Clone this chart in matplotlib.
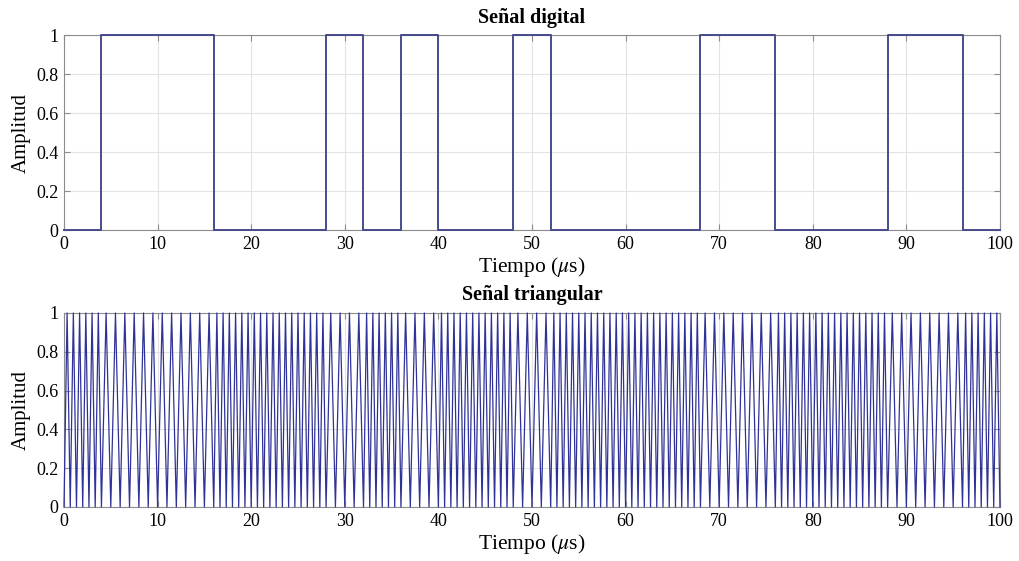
import numpy as np
import matplotlib
matplotlib.use('Agg')
import matplotlib.pyplot as plt

# bits of the digital signal, each lasting 4 us
bits = [0, 1, 1, 1, 0, 0, 0, 1, 0, 1, 0, 0, 1, 0, 0, 0, 0, 1, 1, 0, 0, 0, 1, 1, 0]
bitDuration = 4.0
# triangle period (us) used for each bit value
periodForBit = {0: 2.0 / 3.0, 1: 1.0}

digitalColor = '#474b8e'
triColor = '#2f3296'
edgeColor = '#8c8c8c'

plt.rcParams['font.family'] = ['Liberation Serif', 'DejaVu Serif']
plt.rcParams['mathtext.fontset'] = 'stix'

# digital signal as steps
bitTimes = [i * bitDuration for i in range(len(bits) + 1)]
bitValues = bits + [bits[-1]]

# triangular signal: vertices at every half period
triTimes = []
triValues = []
for i in range(len(bits)):
    start = i * bitDuration
    half = periodForBit[bits[i]] / 2.0
    n = int(round(bitDuration / half))
    for k in range(n):
        triTimes.append(start + k * half)
        triValues.append(k % 2)
triTimes.append(len(bits) * bitDuration)
triValues.append(0)

fig = plt.figure(figsize=(10.19, 5.61), dpi=100)
ax1 = fig.add_axes([0.0628, 0.590, 0.9185, 0.3476])
ax2 = fig.add_axes([0.0628, 0.0963, 0.9185, 0.3458])

ax1.step(bitTimes, bitValues, where='post', color=digitalColor, linewidth=1.4,
         clip_on=False, zorder=3)
ax2.plot(triTimes, triValues, color=triColor, linewidth=0.9, clip_on=False, zorder=3)

for ax, title in [(ax1, 'Señal digital'), (ax2, 'Señal triangular')]:
    ax.set_xlim(0, 100)
    ax.set_ylim(0, 1)
    ax.set_xticks(np.arange(0, 101, 10))
    ax.set_yticks([0, 0.2, 0.4, 0.6, 0.8, 1])
    ax.set_yticklabels(['0', '0.2', '0.4', '0.6', '0.8', '1'])
    ax.grid(True, color='#e3e3e3', linewidth=0.8)
    ax.set_axisbelow(True)
    ax.tick_params(direction='in', top=True, right=True, labelsize=13,
                   color=edgeColor, length=4, pad=4)
    for s in ax.spines.values():
        s.set_color(edgeColor)
        s.set_linewidth(0.8)
    ax.set_title(title, fontsize=14.5, fontweight='bold', pad=9)
    ax.set_xlabel('Tiempo ($\\mu$s)', fontsize=15.5, labelpad=2)
    ax.set_ylabel('Amplitud', fontsize=15, labelpad=4)

fig.savefig('out.png', dpi=100)
